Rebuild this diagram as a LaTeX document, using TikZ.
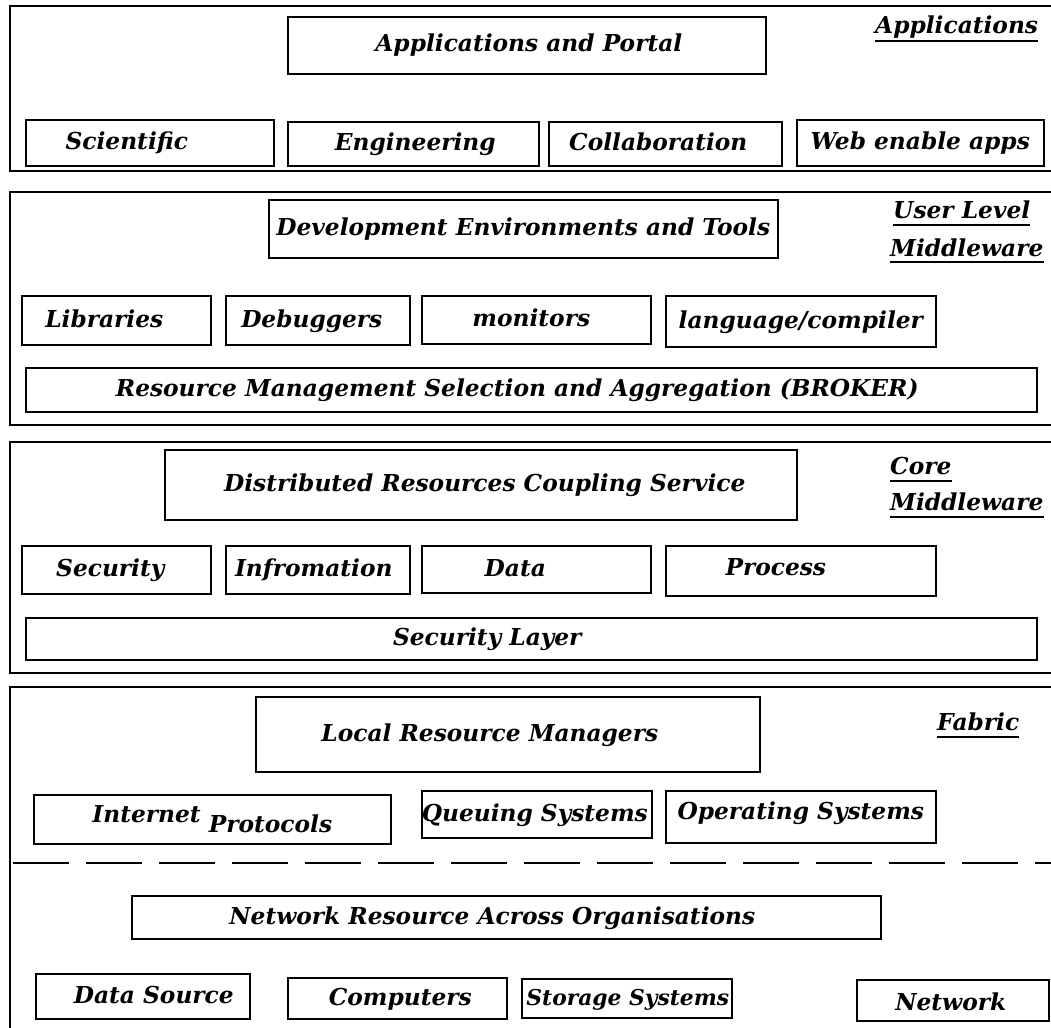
\documentclass[tikz,border=0pt]{standalone}
\usepackage{fontspec}
\setmainfont{DejaVu Serif}
\begin{document}
\begin{tikzpicture}[x=1pt,y=-1pt,
  layer/.style={draw=black, line width=1.8pt},
  box/.style={draw=black, line width=1.6pt, inner sep=0pt, anchor=north west},
  lbl/.style={font=\fontsize{23.3}{27}\selectfont\bfseries\itshape, inner sep=0pt,
              text height=18.5pt, text depth=4.5pt},
  tag/.style={font=\fontsize{23.3}{27}\selectfont\bfseries\itshape, inner sep=0pt, anchor=base west},
  uline/.style={line width=2.4pt},
  sep/.style={line width=1.8pt, dash pattern=on 56pt off 17pt, dash phase=-3pt}]

% page frame
\useasboundingbox (0,0) rectangle (1051,1027);
\clip (0,0) rectangle (1051,1027);

% a framed box with its caption; #6 and #7 shift the caption right / up
\newcommand\panel[8]{%
  \node[box, minimum width={#4-#2}, minimum height={#5-#3}] (#1) at (#2,#3) {};
  \node[lbl] (#1-t) at ([xshift=#6, yshift=#7]#1.center) {#8};}

% ---- layer outlines ----
\draw[layer] (10,6) rectangle (1070,171);
\draw[layer] (10,192) rectangle (1070,425);
\draw[layer] (10,442) rectangle (1070,673);
\draw[layer] (10,687) rectangle (1070,1060);
\coordinate (sepL) at (10,863);
\coordinate (sepR) at (1060,863);
\draw[sep] (sepL) -- (sepR);

% ---- Applications ----
\panel{appportal}{287}{16}{765}{73}{2}{1}{Applications and Portal}
\panel{sci}{25}{119}{273}{165}{-23}{0}{Scientific}
\panel{eng}{287}{121}{538}{165}{2}{0}{Engineering}
\panel{collab}{548}{121}{781}{165}{-7}{0}{Collaboration}
\panel{web}{796}{119}{1043}{165}{0}{0}{Web enable apps}
\node[tag] (lay1) at (875,34) {Applications};
\draw[uline] ([yshift=-7]lay1.base west) -- ([yshift=-7]lay1.base east);

% ---- User level middleware ----
\panel{devenv}{268}{199}{777}{257}{0}{0}{Development Environments and Tools}
\panel{libs}{21}{295}{210}{344}{-12}{0}{Libraries}
\panel{debug}{225}{295}{409}{344}{-6}{0}{Debuggers}
\panel{monit}{421}{295}{650}{343}{-5}{0}{monitors}
\panel{lang}{665}{295}{935}{346}{0}{0}{language/compiler}
\panel{broker}{25}{367}{1036}{411}{-14}{0}{Resource Management Selection and Aggregation (BROKER)}
\node[tag] (lay2a) at (893,218) {User Level};
\draw[uline] ([yshift=-7]lay2a.base west) -- ([yshift=-7]lay2a.base east);
\node[tag] (lay2b) at (890,256) {Middleware};
\draw[uline] ([yshift=-6]lay2b.base west) -- ([yshift=-6]lay2b.base east);

% ---- Core middleware ----
\panel{drcs}{164}{449}{796}{519}{4}{0}{Distributed Resources Coupling Service}
\panel{secu}{21}{545}{210}{593}{-6}{0}{Security}
\panel{info}{225}{545}{409}{593}{-4}{0}{Infromation}
\panel{data}{421}{545}{650}{592}{-21}{0}{Data}
\panel{proc}{665}{545}{935}{595}{-25}{2}{Process}
\panel{seclayer}{25}{617}{1036}{659}{-44}{0}{Security Layer}
\node[tag] (lay3a) at (890,474) {Core};
\draw[uline] ([yshift=-7]lay3a.base west) -- ([yshift=-7]lay3a.base east);
\node[tag] (lay3b) at (890,510) {Middleware};
\draw[uline] ([yshift=-7]lay3b.base west) -- ([yshift=-7]lay3b.base east);

% ---- Fabric ----
\panel{lrm}{255}{696}{759}{771}{-18}{0}{Local Resource Managers}
\panel{inet}{33}{794}{390}{843}{0}{4}{Internet \raisebox{-10pt}{Protocols}}
\panel{queue}{421}{790}{651}{837}{-2}{0}{Queuing Systems}
\panel{ossys}{665}{790}{935}{842}{0}{4}{Operating Systems}
\node[tag] (lay4) at (937,730) {Fabric};
\draw[uline] ([yshift=-7]lay4.base west) -- ([yshift=-7]lay4.base east);

% ---- Network ----
\panel{netres}{131}{895}{880}{938}{-14}{0}{Network Resource Across Organisations}
\panel{dsrc}{35}{973}{249}{1018}{11}{0}{Data Source}
\panel{comp}{287}{977}{506}{1018}{3}{0}{Computers}
\panel{stor}{521}{978}{731}{1017}{1}{0}{\fontsize{21.8}{26}\selectfont Storage Systems}
\panel{net}{856}{979}{1048}{1020}{-2}{-3}{Network}
\end{tikzpicture}
\end{document}
